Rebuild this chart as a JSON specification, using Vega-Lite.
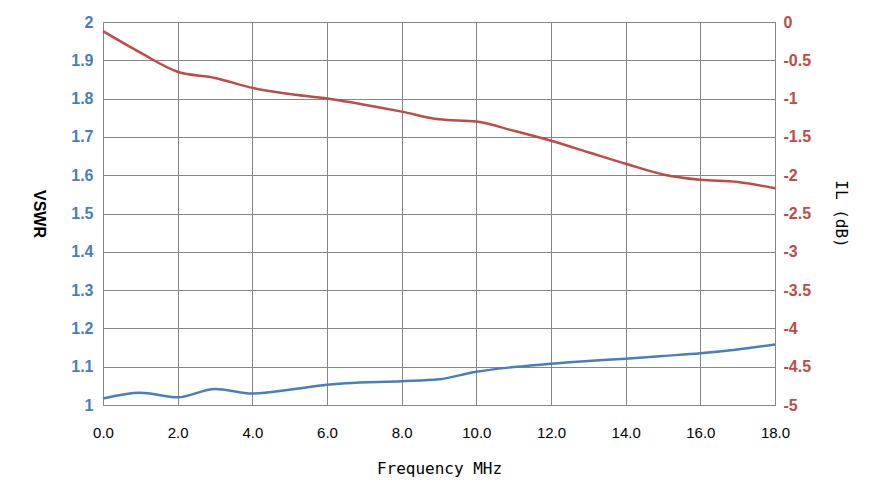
{
  "$schema": "https://vega.github.io/schema/vega-lite/v6.json",
  "width": 672,
  "height": 383,
  "autosize": "none",
  "padding": {"left": 103, "top": 22, "right": 111, "bottom": 98},
  "background": "white",
  "datasets": {
    "vswr": [
      {"f": 0, "v": 1.017}, {"f": 1, "v": 1.032}, {"f": 2, "v": 1.02}, {"f": 3, "v": 1.042},
      {"f": 4, "v": 1.03}, {"f": 5, "v": 1.04}, {"f": 6, "v": 1.053}, {"f": 6.5, "v": 1.057},
      {"f": 8, "v": 1.062}, {"f": 9, "v": 1.067}, {"f": 10, "v": 1.087}, {"f": 11, "v": 1.099},
      {"f": 12, "v": 1.108}, {"f": 13, "v": 1.115}, {"f": 14, "v": 1.121}, {"f": 15, "v": 1.128},
      {"f": 16, "v": 1.135}, {"f": 17, "v": 1.145}, {"f": 18, "v": 1.158}
    ],
    "il": [
      {"f": 0, "d": -0.12}, {"f": 1, "d": -0.4}, {"f": 2, "d": -0.65}, {"f": 3, "d": -0.73},
      {"f": 4, "d": -0.86}, {"f": 5, "d": -0.94}, {"f": 6, "d": -1.0}, {"f": 7, "d": -1.08},
      {"f": 8, "d": -1.17}, {"f": 9, "d": -1.27}, {"f": 10, "d": -1.3}, {"f": 11, "d": -1.42},
      {"f": 12, "d": -1.55}, {"f": 13, "d": -1.7}, {"f": 14, "d": -1.85}, {"f": 15, "d": -1.99},
      {"f": 16, "d": -2.06}, {"f": 17, "d": -2.09}, {"f": 18, "d": -2.17}
    ]
  },
  "encoding": {
    "x": {
      "field": "f", "type": "quantitative", "title": "Frequency MHz",
      "scale": {"domain": [0, 18], "nice": false},
      "axis": {"values": [0, 2, 4, 6, 8, 10, 12, 14, 16, 18], "format": ".1f",
        "grid": true, "gridColor": "#868686", "labelFontSize": 15, "labelColor": "#000",
        "labelFlush": false, "labelBound": false, "labelOverlap": false,
        "titleFontSize": 16, "titleFontWeight": "normal", "titleColor": "#000", "titlePadding": 20,
        "titleFont": "DejaVu Sans Mono",
        "labelPadding": 20, "ticks": false, "domainColor": "#868686"}
    }
  },
  "layer": [
    {
      "data": {"name": "vswr"},
      "mark": {"type": "line", "color": "#4a7ebb", "strokeWidth": 2.5, "interpolate": "monotone"},
      "encoding": {
        "y": {
          "field": "v", "type": "quantitative", "title": "VSWR",
          "scale": {"domain": [1, 2], "nice": false, "zero": false},
          "axis": {"values": [1, 1.1, 1.2, 1.3, 1.4, 1.5, 1.6, 1.7, 1.8, 1.9, 2], "labelExpr": "format(datum.value, '.1~f')",
            "grid": true, "gridColor": "#868686", "labelColor": "#4a7ebb", "labelFontWeight": "bold",
            "labelFontSize": 16, "titleFontSize": 16, "titleColor": "#000", "titleAngle": 90,
            "titlePadding": 40, "ticks": false, "domainColor": "#868686", "labelPadding": 10}
        }
      }
    },
    {
      "data": {"name": "il"},
      "mark": {"type": "line", "color": "#be4b48", "strokeWidth": 2.5, "interpolate": "monotone"},
      "encoding": {
        "y": {
          "field": "d", "type": "quantitative", "title": "IL (dB)",
          "scale": {"domain": [-5, 0], "nice": false},
          "axis": {"orient": "right", "values": [-5, -4.5, -4, -3.5, -3, -2.5, -2, -1.5, -1, -0.5, 0],
            "labelExpr": "datum.value < 0 ? '-' + format(-datum.value, '~g') : '0'",
            "grid": false, "labelColor": "#be4b48", "labelFontWeight": "bold",
            "labelFontSize": 16, "titleFontSize": 16, "titleFontWeight": "normal", "titleColor": "#000",
            "titleFont": "DejaVu Sans Mono",
            "titleAngle": 90, "titlePadding": 22, "ticks": false, "domainColor": "#868686", "labelPadding": 8}
        }
      }
    }
  ],
  "resolve": {"scale": {"y": "independent"}},
  "config": {"view": {"stroke": "#868686"}, "font": "Liberation Sans"}
}
